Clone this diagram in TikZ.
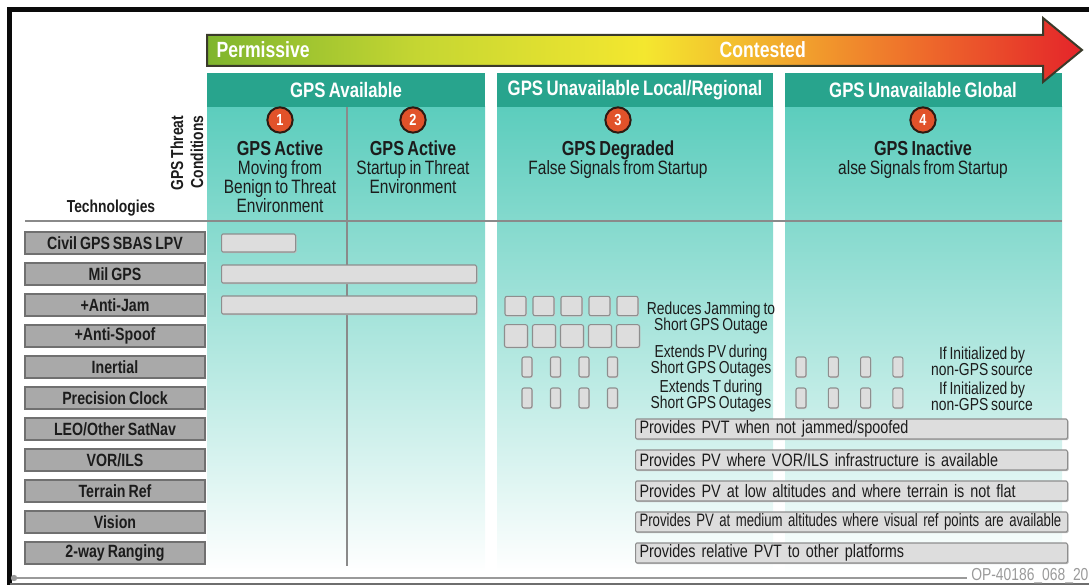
\documentclass[tikz,border=0pt]{standalone}
\usepackage{graphicx}
\usepackage{fontspec}
\setmainfont{Liberation Sans}[FakeStretch=0.8,WordSpace=0.75]
\usetikzlibrary{positioning}

\definecolor{ink}{HTML}{1C1C1C}
\definecolor{framecol}{HTML}{0A0A0A}
\definecolor{bandteal}{HTML}{28A48D}
\definecolor{colteal}{HTML}{5CCDBD}
\definecolor{colpale}{HTML}{DCF2EE}
\definecolor{techgray}{HTML}{A9A9A9}
\definecolor{techedge}{HTML}{707070}
\definecolor{barfill}{HTML}{DDDDDD}
\definecolor{baredge}{HTML}{8E8E8E}
\definecolor{rulegray}{HTML}{8A8A8A}
\definecolor{numorange}{HTML}{E1522A}
\definecolor{numedge}{HTML}{2E1A12}
\definecolor{arrowedge}{HTML}{3A3A2A}
\definecolor{ramp1}{HTML}{7FB52E}
\definecolor{ramp2}{HTML}{C5D632}
\definecolor{ramp3}{HTML}{F4E72F}
\definecolor{ramp4}{HTML}{F2A92D}
\definecolor{ramp5}{HTML}{EE6A2B}
\definecolor{ramp6}{HTML}{E4242A}
\definecolor{optext}{HTML}{9A9A9A}

\pgfdeclarehorizontalshading{threatramp}{100bp}{color(0bp)=(ramp1); color(25bp)=(ramp1);
  color(37bp)=(ramp2); color(50bp)=(ramp3); color(58bp)=(ramp4); color(66bp)=(ramp5);
  color(75bp)=(ramp6); color(100bp)=(ramp6)}

\newcommand{\condtitle}[1]{{\bfseries\fontsize{15.2}{14.2}\selectfont #1}}

\begin{document}
\begin{tikzpicture}[x=0.75pt,y=-0.75pt,node distance=23.25pt,on grid,
    tech/.style={draw=techedge,fill=techgray,line width=0.9pt,minimum width=135pt,
      minimum height=16.5pt,inner sep=0pt,text=ink,font=\bfseries\fontsize{13.3}{14}\selectfont,
      preaction={fill=black!45,transform canvas={xshift=0.9pt,yshift=-0.9pt}}},
    bar/.style={draw=baredge,fill=barfill,line width=0.8pt,rounded corners=1pt,
      minimum height=13.5pt,inner sep=0pt,anchor=west,
      preaction={fill=black!25,transform canvas={xshift=0.8pt,yshift=-0.9pt}}},
    sq/.style={draw=baredge,fill=barfill,line width=0.8pt,rounded corners=1.5pt,inner sep=0pt,
      preaction={fill=black!20,transform canvas={xshift=0.6pt,yshift=-0.8pt}}},
    slot/.style={sq,minimum width=7.5pt,minimum height=15pt},
    longbar/.style={bar,minimum height=15pt,text width=318pt,inner xsep=3pt,align=left,
      text=ink,font=\fontsize{13.5}{14}\selectfont},
    band/.style={text=white,font=\bfseries\fontsize{15.7}{16}\selectfont},
    num/.style={circle,draw=numedge,fill=numorange,line width=1.5pt,minimum size=19pt,
      inner sep=0pt,text=white,font=\bfseries\fontsize{12}{12}\selectfont},
    cond/.style={anchor=north,align=center,inner sep=0pt,text=ink,
      font=\fontsize{14.5}{14.2}\selectfont},
    note/.style={align=center,inner sep=0pt,text=ink,font=\fontsize{13}{12.2}\selectfont},
    rule/.style={draw=rulegray,line width=1.5pt}]
  \useasboundingbox (0,0) rectangle (1089,585);

  % frame
  \draw[framecol,line width=3.75pt] (9.5,585) -- (9.5,9.5) -- (1089,9.5);
  \draw[rulegray!80!black,line width=1.2pt] (10,584) -- (1089,584);

  % threat columns
  \shade[top color=colteal,middle color=colpale,bottom color=white] (207,107) rectangle (485,572);
  \shade[top color=colteal,middle color=colpale,bottom color=white] (497,107) rectangle (773,572);
  \shade[top color=colteal,middle color=colpale,bottom color=white] (785,107) rectangle (1062,572);
  \fill[bandteal] (207,73) rectangle (485,107);
  \fill[bandteal] (497,73) rectangle (773,107);
  \fill[bandteal] (785,73) rectangle (1062,107);
  \draw[rule] (347,107) -- (347,566);
  \draw[rule] (25,221) -- (1062,221);

  % permissive -> contested
  \shadedraw[shading=threatramp,draw=arrowedge,line width=1.5pt,line join=miter]
    (207,35) -- (1043,35) -- (1043,18) -- (1082,50) -- (1043,82) -- (1043,66) -- (207,66) -- cycle;
  \node[anchor=west,text=white,font=\bfseries\fontsize{16.5}{17}\selectfont] (perm) at (212,50) {Permissive};
  \node[anchor=west,text=white,font=\bfseries\fontsize{16.5}{17}\selectfont] (cont) at (715,50) {Contested};

  % column heads
  \node[band] (availhd) at (346,90) {GPS Available};
  \node[band] (localhd) at (635,90) {GPS Unavailable Local/Regional};
  \node[band] (globalhd) at (923,90) {GPS Unavailable Global};

  \node[num] (c1) at (280,120) {1};
  \node[num] (c2) at (413,120) {2};
  \node[num] (c3) at (618,120) {3};
  \node[num] (c4) at (923,120) {4};

  \node[cond] (active1) at (280,141) {\condtitle{GPS Active}\\Moving from\\Benign to Threat\\Environment};
  \node[cond] (active2) at (413,141) {\condtitle{GPS Active}\\Startup in Threat\\Environment};
  \node[cond] (degraded) at (618,141) {\condtitle{GPS Degraded}\\False Signals from Startup};
  \node[cond] (inactive) at (923,141) {\condtitle{GPS Inactive}\\alse Signals from Startup};

  \node[rotate=90,align=right,inner sep=0pt,text=ink,font=\bfseries\fontsize{13}{15}\selectfont]
    (threat) at (187,153) {GPS Threat\\Conditions};
  \node[text=ink,font=\bfseries\fontsize{13}{14}\selectfont] (techhd) at (111,208) {Technologies};

  % technologies
  \node[tech] (t1) at (115,243) {Civil GPS SBAS LPV};
  \node[tech] (t2) [below=of t1] {Mil GPS};
  \node[tech] (t3) [below=of t2] {+Anti-Jam};
  \node[tech] (t4) [below=of t3] {+Anti-Spoof};
  \node[tech] (t5) [below=of t4] {Inertial};
  \node[tech] (t6) [below=of t5] {Precision Clock};
  \node[tech] (t7) [below=of t6] {LEO/Other SatNav};
  \node[tech] (t8) [below=of t7] {VOR/ILS};
  \node[tech] (t9) [below=of t8] {Terrain Ref};
  \node[tech] (t10) [below=of t9] {Vision};
  \node[tech] (t11) [below=of t10] {2-way Ranging};

  % coverage bars
  \coordinate (xA) at (221,0);
  \coordinate (xL) at (635,0);
  \node[bar,minimum width=55.5pt] (civbar) at (xA |- t1) {};
  \node[bar,minimum width=191.25pt] (milbar) at (xA |- t2) {};
  \node[bar,minimum width=191.25pt] (jambar) at (xA |- t3) {};

  \foreach \i in {0,...,4} {
    \node[sq,minimum width=15.75pt,minimum height=14.5pt] (jam\i) at (515.5+28*\i,306) {};
    \node[sq,minimum width=17.25pt,minimum height=17pt] (spoof\i) at (516+28*\i,336) {};
  }
  \foreach \i in {0,...,3} {
    \node[slot] (inb\i) at (527+28.5*\i,367) {};
    \node[slot] (ckb\i) at (527+28.5*\i,398) {};
    \node[slot] (inc\i) at (801+32.3*\i,367) {};
    \node[slot] (ckc\i) at (801+32.3*\i,398) {};
  }

  \node[note] (jamnote) at (711,318) {Reduces Jamming to\\Short GPS Outage};
  \node[note] (inbnote) at (711,361) {Extends PV during\\Short GPS Outages};
  \node[note] (ckbnote) at (711,396) {Extends T during\\Short GPS Outages};
  \node[note] (incnote) at (982,361) {If Initialized by\\non-GPS source};
  \node[note] (ckcnote) at (982,396) {If Initialized by\\non-GPS source};

  \node[longbar] (leobar) at (xL |- t7) {Provides PVT when not jammed/spoofed};
  \node[longbar] (vorbar) at (xL |- t8) {Provides PV where VOR/ILS infrastructure is available};
  \node[longbar] (terbar) at (xL |- t9) {Provides PV at low altitudes and where terrain is not flat};
  \node[longbar] (visbar) at (xL |- t10) {\scalebox{0.915}[1]{Provides PV at medium altitudes where visual ref points are available}};
  \node[longbar] (rngbar) at (xL |- t11) {Provides relative PVT to other platforms};

  % footer
  \draw[rule,draw=optext] (14,578) -- (967,578);
  \fill[optext] (14,578) circle[radius=2.4pt];
  \node[anchor=west,inner sep=0pt,text=optext,font=\fontsize{13}{13}\selectfont] (opno) at (971,576) {OP-40186\_068\_20};
\end{tikzpicture}
\end{document}
